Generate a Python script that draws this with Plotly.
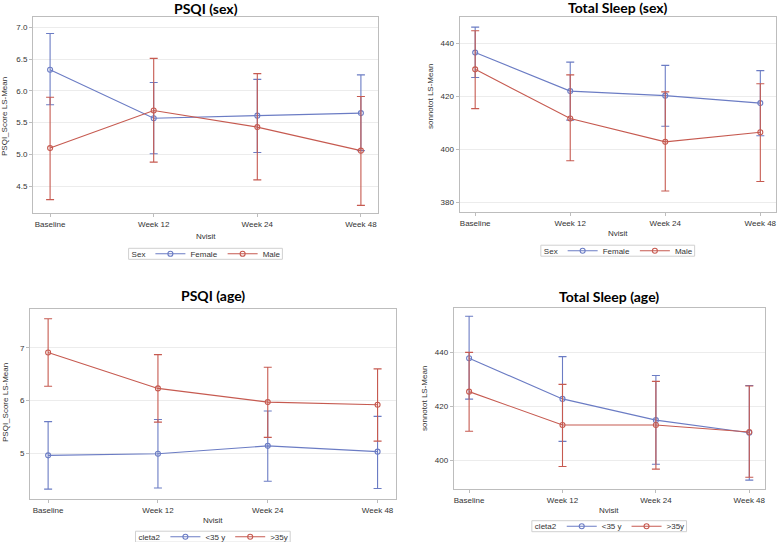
import plotly.graph_objects as go

visits = ["Baseline", "Week 12", "Week 24", "Week 48"]

# PSQI by sex
psqi_female = [6.33, 5.57, 5.61, 5.65]
psqi_female_hi = [6.90, 6.13, 6.18, 6.25]
psqi_female_lo = [5.78, 5.01, 5.03, 5.06]
psqi_male = [5.10, 5.69, 5.43, 5.06]
psqi_male_hi = [5.90, 6.51, 6.27, 5.91]
psqi_male_lo = [4.29, 4.88, 4.60, 4.20]

# Total sleep by sex
sleep_female = [436.4, 421.9, 420.2, 417.4]
sleep_female_hi = [446.0, 432.8, 431.6, 429.6]
sleep_female_lo = [427.0, 411.0, 408.7, 405.1]
sleep_male = [430.1, 411.6, 402.8, 406.4]
sleep_male_hi = [444.6, 428.0, 421.6, 424.7]
sleep_male_lo = [415.3, 395.7, 384.3, 387.9]

# PSQI by age
psqi_young = [4.96, 4.99, 5.14, 5.03]
psqi_young_hi = [5.60, 5.64, 5.80, 5.70]
psqi_young_lo = [4.32, 4.34, 4.47, 4.33]
psqi_old = [6.91, 6.23, 5.97, 5.92]
psqi_old_hi = [7.55, 6.87, 6.63, 6.60]
psqi_old_lo = [6.27, 5.59, 5.30, 5.23]

# Total sleep by age
sleep_young = [437.9, 422.8, 414.9, 410.2]
sleep_young_hi = [453.5, 438.5, 431.5, 427.8]
sleep_young_lo = [422.7, 407.0, 398.5, 392.6]
sleep_old = [425.5, 413.1, 413.1, 410.5]
sleep_old_hi = [440.1, 428.2, 429.3, 427.6]
sleep_old_lo = [410.8, 397.7, 396.7, 393.7]

BLUE = "#6b7cc4"
RED = "#c65a50"
W, H = 777, 542
FONT = "Liberation Sans"
LEG_SIZE = 8

# rough Arial glyph widths (em) for legend text, to size the legend frame
CHAR_W = {"S": .667, "e": .556, "x": .5, "F": .611, "m": .833, "a": .556, "l": .222,
          "M": .833, "c": .5, "t": .278, "2": .556, "<": .584, ">": .584, "3": .556,
          "5": .556, " ": .278, "y": .5}

def text_w(s):
    return sum(CHAR_W.get(c, .55) for c in s) * LEG_SIZE

def px_x(v):
    return v / W

def px_y(v):
    return 1 - v / H

fig = go.Figure()

# box in px: x0, x1, y0, y1
panels = [
    dict(n=1, box=(33, 378, 17, 213), title="PSQI (sex)", ytitle="PSQI_Score LS-Mean",
         yrange=[4.08, 7.16], ytv=[4.5, 5.0, 5.5, 6.0, 6.5, 7.0], fmt=".1f", leg="Sex",
         series=[("Female", psqi_female, psqi_female_hi, psqi_female_lo, BLUE),
                 ("Male", psqi_male, psqi_male_hi, psqi_male_lo, RED)],
         legy=253.8, titley=8, xty=237, ytx=5, yty=117),
    dict(n=2, box=(459.5, 776, 17, 212), title="Total Sleep (sex)", ytitle="sonnotot LS-Mean",
         yrange=[376.4, 449.8], ytv=[380, 400, 420, 440], fmt="d", leg="Sex",
         series=[("Female", sleep_female, sleep_female_hi, sleep_female_lo, BLUE),
                 ("Male", sleep_male, sleep_male_hi, sleep_male_lo, RED)],
         legy=250.7, titley=7, xty=234, ytx=430, yty=97),
    dict(n=3, box=(30, 395.7, 309, 499), title="PSQI (age)", ytitle="PSQI_Score LS-Mean",
         yrange=[4.132, 7.736], ytv=[5, 6, 7], fmt="d", leg="cleta2",
         series=[("<35 y", psqi_young, psqi_young_hi, psqi_young_lo, BLUE),
                 (">35y", psqi_old, psqi_old_hi, psqi_old_lo, RED)],
         legy=536.7, titley=295, xty=520, ytx=5, yty=403),
    dict(n=4, box=(453.7, 764.7, 307.7, 489.3), title="Total Sleep (age)", ytitle="sonnotot LS-Mean",
         yrange=[389.2, 456.7], ytv=[400, 420, 440], fmt="d", leg="cleta2",
         series=[("<35 y", sleep_young, sleep_young_hi, sleep_young_lo, BLUE),
                 (">35y", sleep_old, sleep_old_hi, sleep_old_lo, RED)],
         legy=526.2, titley=296, xty=510, ytx=424, yty=398),
]

annotations = []
shapes = []
for p in panels:
    x0, x1, y0, y1 = p["box"]
    n = p["n"]
    sfx = "" if n == 1 else str(n)
    leg = "legend" if n == 1 else "legend%d" % n

    # legend title as a first, symbol-less entry so it sits on the same row
    fig.add_trace(go.Scatter(x=[None], y=[None], name=p["leg"], mode="none",
                             xaxis="x" + sfx, yaxis="y" + sfx, legend=leg,
                             showlegend=True, hoverinfo="skip"))
    for name, mean, hi, lo, col in p["series"]:
        fig.add_trace(go.Scatter(
            x=[0, 1, 2, 3], y=mean, name=name, mode="lines+markers",
            line=dict(color=col, width=1.1),
            marker=dict(symbol="circle-open", size=5, color=col, line=dict(width=1.1)),
            error_y=dict(type="data", symmetric=False,
                         array=[h - m for h, m in zip(hi, mean)],
                         arrayminus=[m - l for m, l in zip(mean, lo)],
                         color=col, thickness=1.1, width=4),
            xaxis="x" + sfx, yaxis="y" + sfx, legend=leg,
        ))
    fig.layout["xaxis" + sfx] = dict(
        domain=[px_x(x0), px_x(x1)], anchor="y" + sfx, automargin=False,
        range=[-0.165, 3.165], tickvals=[0, 1, 2, 3], ticktext=visits,
        showgrid=False, zeroline=False, showline=True, mirror=True,
        linecolor="#bdbdbd", linewidth=1, ticks="outside", ticklen=3,
        tickcolor="#bdbdbd", tickfont=dict(family=FONT, size=8, color="#333"),
    )
    fig.layout["yaxis" + sfx] = dict(
        domain=[px_y(y1), px_y(y0)], anchor="x" + sfx, automargin=False,
        range=p["yrange"], tickvals=p["ytv"], tickformat=p["fmt"],
        showgrid=True, gridcolor="#ececec", zeroline=False, showline=True, mirror=True,
        linecolor="#bdbdbd", linewidth=1, ticks="outside", ticklen=3,
        tickcolor="#bdbdbd", tickfont=dict(family=FONT, size=8, color="#333"),
    )

    # plotly horizontal legend: each entry = 40px symbol area + text + 5px gap
    names = [p["leg"]] + [s[0] for s in p["series"]]
    end = sum(40 + text_w(s) + 5 for s in names) - 5
    cx = (x0 + x1) / 2
    left = cx - (40 + end) / 2
    fig.layout[leg] = dict(
        x=px_x(left), y=px_y(p["legy"]), xanchor="left", yanchor="middle",
        orientation="h", borderwidth=0, bgcolor="rgba(0,0,0,0)",
        font=dict(family=FONT, size=LEG_SIZE, color="#333"),
        itemwidth=30, tracegroupgap=0, traceorder="normal",
    )
    shapes.append(dict(
        type="rect", xref="paper", yref="paper",
        x0=px_x(left + 37), x1=px_x(left + end + 3),
        y0=px_y(p["legy"] - 5.5), y1=px_y(p["legy"] + 5.5),
        line=dict(color="#d0d0d0", width=1), fillcolor="rgba(0,0,0,0)",
    ))

    annotations.append(dict(
        text="<b>%s</b>" % p["title"], x=px_x(cx), y=px_y(p["titley"]),
        xref="paper", yref="paper", xanchor="center", yanchor="middle",
        showarrow=False, font=dict(family="Lato", size=14, color="black"),
    ))
    annotations.append(dict(
        text="Nvisit", x=px_x(cx), y=px_y(p["xty"]),
        xref="paper", yref="paper", xanchor="center", yanchor="middle",
        showarrow=False, font=dict(family=FONT, size=8, color="#333"),
    ))
    annotations.append(dict(
        text=p["ytitle"], x=px_x(p["ytx"]), y=px_y(p["yty"]), textangle=-90,
        xref="paper", yref="paper", xanchor="center", yanchor="middle",
        showarrow=False, font=dict(family=FONT, size=8, color="#333"),
    ))

fig.update_layout(
    width=W, height=H, margin=dict(l=0, r=0, t=0, b=0, autoexpand=False),
    paper_bgcolor="white", plot_bgcolor="white",
    annotations=annotations, shapes=shapes,
)

# drop the default 8px page margin so the figure fills the window
fig.write_html("out.html", config={"displayModeBar": False},
               post_script="document.body.style.margin='0';")
